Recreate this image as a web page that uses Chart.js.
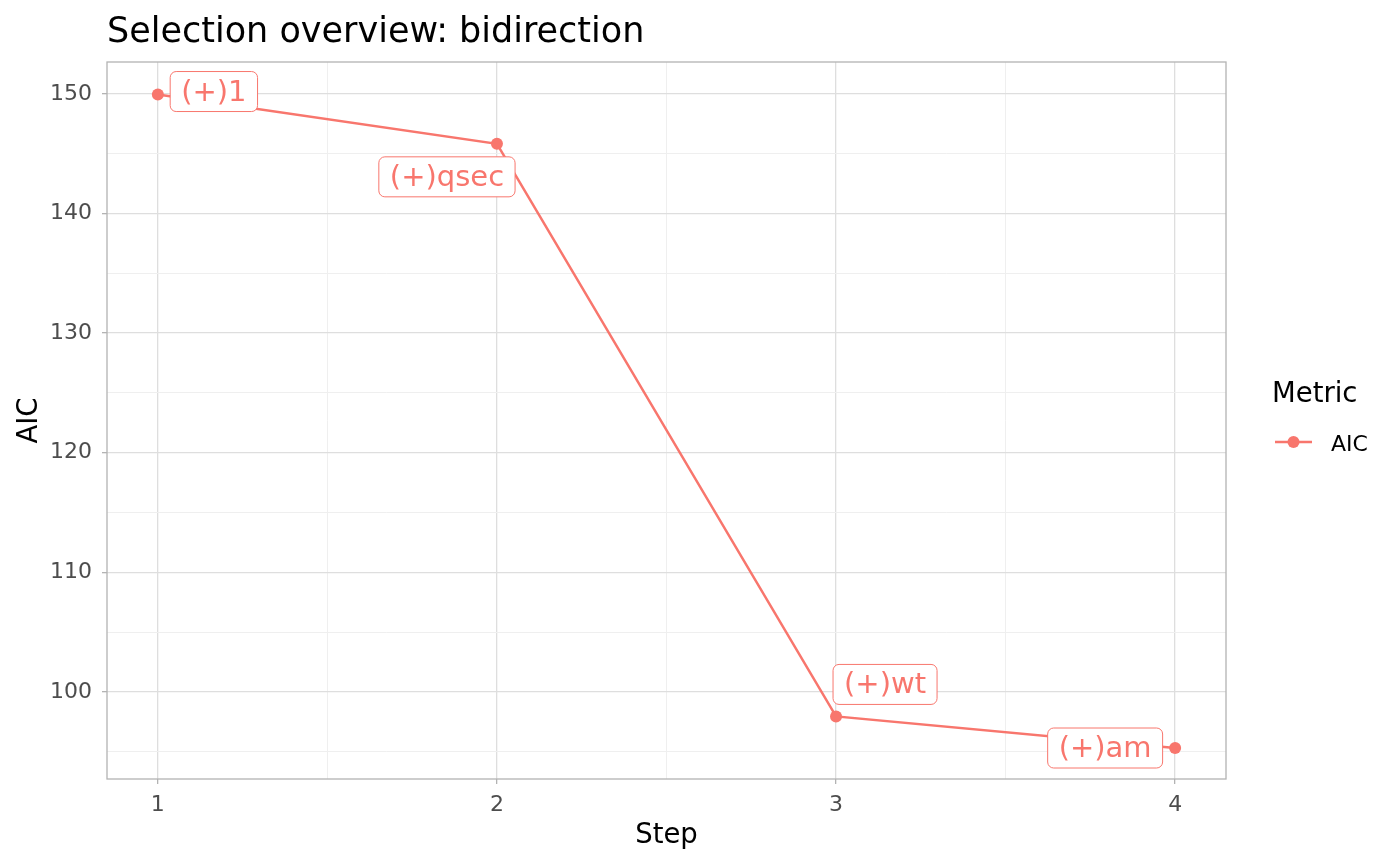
<!DOCTYPE html>
<html>
<head>
<meta charset="utf-8">
<script src="https://cdn.jsdelivr.net/npm/chart.js@4"></script>
<style>
  html, body { margin: 0; padding: 0; background: #ffffff; }
  #wrap { width: 1400px; height: 865px; }
</style>
</head>
<body>
<div id="wrap"><canvas id="c" width="1400" height="865"></canvas></div>
<script>
// ---- data ----
const steps = [1, 2, 3, 4];
const aicValues = [149.94, 145.82, 97.96, 95.32];
const stepLabels = ["(+)1", "(+)qsec", "(+)wt", "(+)am"];
const xTickValues = [1, 2, 3, 4];
const xMinorTicks = [1.5, 2.5, 3.5];
const yTickValues = [100, 110, 120, 130, 140, 150];
const yMinorTicks = [95, 105, 115, 125, 135, 145];
const seriesName = "AIC";

// ---- layout / style ----
const RED = "#F8766D";
const FONT = "'DejaVu Sans', 'Noto Sans', sans-serif";
const labelOffsets = [[56, -3], [-50, 33], [49, -32], [-70, 0]]; // label box centre offset from point, px

const points = steps.map((s, i) => ({ x: s, y: aicValues[i] }));

const isMajor = (v, list) => list.some(t => Math.abs(t - v) < 1e-9);

const overlay = {
  id: 'overlay',
  beforeDatasetsDraw(chart) {
    const { ctx, chartArea: a } = chart;
    ctx.save();
    ctx.strokeStyle = '#b3b3b3';
    ctx.lineWidth = 1.3;
    ctx.strokeRect(a.left, a.top, a.right - a.left, a.bottom - a.top);
    ctx.restore();
  },
  afterDatasetsDraw(chart) {
    const { ctx } = chart;
    const xs = chart.scales.x, ys = chart.scales.y;
    ctx.save();
    ctx.font = `29px ${FONT}`;
    ctx.textBaseline = 'middle';
    ctx.textAlign = 'center';
    stepLabels.forEach((lab, i) => {
      const px = xs.getPixelForValue(steps[i]);
      const py = ys.getPixelForValue(aicValues[i]);
      const cx = px + labelOffsets[i][0];
      const cy = py + labelOffsets[i][1];
      const w = ctx.measureText(lab).width + 22;
      const h = 40;
      const x0 = cx - w / 2, y0 = cy - h / 2;
      ctx.beginPath();
      ctx.roundRect(x0, y0, w, h, 6);
      ctx.fillStyle = '#ffffff';
      ctx.fill();
      ctx.strokeStyle = RED;
      ctx.lineWidth = 1;
      ctx.stroke();
      ctx.fillStyle = RED;
      ctx.fillText(lab, cx, cy + 1.5);
    });
    ctx.restore();
  },
  afterDraw(chart) {
    const { ctx, chartArea: a } = chart;
    ctx.save();
    // title
    ctx.fillStyle = '#000000';
    ctx.font = `35px ${FONT}`;
    ctx.textAlign = 'left';
    ctx.textBaseline = 'alphabetic';
    ctx.fillText('Selection overview: bidirection', 107, 42);
    // x axis title
    ctx.font = `27.5px ${FONT}`;
    ctx.textAlign = 'center';
    ctx.fillText('Step', (a.left + a.right) / 2, 843);
    // y axis title
    ctx.save();
    ctx.translate(37, (a.top + a.bottom) / 2);
    ctx.rotate(-Math.PI / 2);
    ctx.fillText('AIC', 0, 0);
    ctx.restore();
    // legend
    ctx.textAlign = 'left';
    ctx.fillText('Metric', 1272, 402);
    ctx.strokeStyle = RED;
    ctx.lineWidth = 2.5;
    ctx.beginPath();
    ctx.moveTo(1275, 442);
    ctx.lineTo(1312, 442);
    ctx.stroke();
    ctx.fillStyle = RED;
    ctx.beginPath();
    ctx.arc(1293.5, 442, 6, 0, Math.PI * 2);
    ctx.fill();
    ctx.fillStyle = '#000000';
    ctx.font = `22px ${FONT}`;
    ctx.fillText(seriesName, 1331, 451);
    ctx.restore();
  }
};

new Chart(document.getElementById('c'), {
  type: 'line',
  data: {
    datasets: [{
      label: seriesName,
      data: points,
      borderColor: RED,
      backgroundColor: RED,
      borderWidth: 2.5,
      pointRadius: 6,
      pointHoverRadius: 6,
      pointBorderWidth: 0,
      tension: 0,
      clip: false
    }]
  },
  options: {
    responsive: false,
    devicePixelRatio: 1,
    animation: false,
    events: [],
    layout: { padding: { top: 62, right: 174, left: 0, bottom: 0 } },
    plugins: { legend: { display: false }, title: { display: false }, tooltip: { enabled: false } },
    scales: {
      x: {
        type: 'linear',
        min: 0.85,
        max: 4.15,
        afterBuildTicks(scale) {
          scale.ticks = [...xTickValues, ...xMinorTicks].sort((p, q) => p - q).map(v => ({ value: v }));
        },
        afterFit(scale) { scale.height = 86; },
        border: { display: false },
        grid: {
          drawTicks: true,
          tickLength: 5,
          color: c => isMajor(c.tick.value, xTickValues) ? '#dedede' : '#efefef',
          lineWidth: c => isMajor(c.tick.value, xTickValues) ? 1.3 : 1,
          tickColor: c => isMajor(c.tick.value, xTickValues) ? '#b3b3b3' : 'rgba(0,0,0,0)'
        },
        ticks: {
          autoSkip: false,
          maxRotation: 0,
          padding: 8,
          color: '#4d4d4d',
          font: { family: FONT, size: 22 },
          callback: v => isMajor(v, xTickValues) ? String(v) : ''
        }
      },
      y: {
        type: 'linear',
        min: 92.73,
        max: 152.66,
        afterBuildTicks(scale) {
          scale.ticks = [...yTickValues, ...yMinorTicks].sort((p, q) => p - q).map(v => ({ value: v }));
        },
        afterFit(scale) { scale.width = 107; },
        border: { display: false },
        grid: {
          drawTicks: true,
          tickLength: 5,
          color: c => isMajor(c.tick.value, yTickValues) ? '#dedede' : '#efefef',
          lineWidth: c => isMajor(c.tick.value, yTickValues) ? 1.3 : 1,
          tickColor: c => isMajor(c.tick.value, yTickValues) ? '#b3b3b3' : 'rgba(0,0,0,0)'
        },
        ticks: {
          autoSkip: false,
          padding: 10,
          color: '#4d4d4d',
          font: { family: FONT, size: 22 },
          callback: v => isMajor(v, yTickValues) ? String(v) : ''
        }
      }
    }
  },
  plugins: [overlay]
});
</script>
</body>
</html>
